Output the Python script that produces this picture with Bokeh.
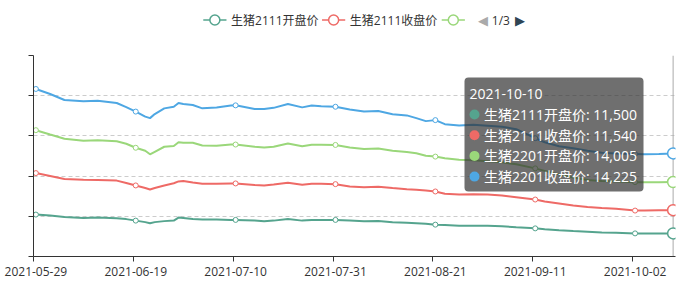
import pandas as pd
from bokeh.plotting import figure
from bokeh.layouts import column
from bokeh.models import FixedTicker, Span, Label, BoxAnnotation
from bokeh.core.properties import value
from bokeh.embed import file_html
from bokeh.resources import INLINE

# ---------------- data ----------------
dates = ["2021-05-29", "2021-06-01", "2021-06-04", "2021-06-08", "2021-06-11", "2021-06-15",
         "2021-06-17", "2021-06-19", "2021-06-21", "2021-06-22", "2021-06-23", "2021-06-25",
         "2021-06-27", "2021-06-28", "2021-06-29", "2021-07-01", "2021-07-03", "2021-07-06",
         "2021-07-09", "2021-07-10", "2021-07-14", "2021-07-16", "2021-07-18", "2021-07-21",
         "2021-07-24", "2021-07-26", "2021-07-28", "2021-07-31", "2021-08-03", "2021-08-06",
         "2021-08-09", "2021-08-12", "2021-08-15", "2021-08-17", "2021-08-19", "2021-08-21",
         "2021-08-23", "2021-08-26", "2021-08-29", "2021-09-01", "2021-09-04", "2021-09-07",
         "2021-09-11", "2021-09-13", "2021-09-16", "2021-09-19", "2021-09-22", "2021-09-25",
         "2021-09-28", "2021-10-02", "2021-10-04", "2021-10-07", "2021-10-10"]

lh2111_open = [20850, 20350, 19600, 19200, 19350, 19000, 18600, 17850, 17100, 16500, 17100, 17600,
               17850, 19350, 19100, 18600, 18350, 18350, 18200, 18200, 17950, 17500, 17850, 18700,
               17850, 18100, 18200, 18200, 17850, 17500, 17700, 17100, 16850, 16600, 16350, 15850,
               15700, 15350, 15350, 15350, 15100, 14500, 14000, 13600, 13100, 12700, 12350, 12000,
               11850, 11500, 11500, 11500, 11500]
lh2111_close = [20650, 19750, 19000, 19000, 18750, 18750, 18000, 17500, 17000, 16850, 17000, 17750,
                18600, 18000, 18500, 18250, 17850, 17850, 18150, 18150, 17650, 17850, 18000, 18000,
                17850, 18100, 18000, 17800, 17000, 17000, 17050, 17000, 16650, 16600, 16500, 16500,
                15500, 15500, 15600, 15500, 15250, 15000, 14350, 13750, 13250, 12650, 12250, 12100,
                11850, 11350, 11350, 11500, 11540]
lh2201_open = [21350, 20600, 20000, 19400, 19750, 19600, 19500, 18750, 18500, 17500, 18000, 19250,
               18550, 19500, 19000, 19750, 19000, 18900, 19350, 19350, 19000, 18850, 18750, 19500,
               19150, 19400, 19400, 19500, 19350, 18950, 18950, 18500, 18500, 18150, 17250, 17350,
               17650, 17250, 16900, 16500, 16500, 16350, 15500, 15250, 14500, 14000, 13500, 13500,
               13650, 14150, 14150, 14000, 14005]
lh2201_close = [20500, 20150, 19250, 19600, 19600, 19000, 18250, 18000, 17000, 18000, 18750, 19100,
                19500, 19500, 19250, 18750, 18500, 19000, 19400, 19500, 18750, 19150, 19350, 19650,
                19350, 19500, 19100, 19000, 18900, 18650, 18650, 18150, 18200, 17500, 17250, 18150,
                17000, 17100, 17750, 17750, 17750, 17500, 15000, 14250, 14000, 14500, 14500, 14000,
                13850, 14000, 13850, 14000, 14225]

series_names = ["生猪2111开盘价", "生猪2111收盘价", "生猪2201开盘价", "生猪2201收盘价"]
series_values = [lh2111_open, lh2111_close, lh2201_open, lh2201_close]
series_colors = ["#55a48e", "#ee6a66", "#9ad77a", "#4ea7e3"]

tick_labels = ["2021-05-29", "2021-06-19", "2021-07-10", "2021-07-31",
               "2021-08-21", "2021-09-11", "2021-10-02"]
y_ticks = [0, 20000, 40000, 60000, 80000, 100000]
legend_page = "1/3"
legend_visible = 3          # legend page 1 shows 3 icons, 2 names

FONT = "Open Sans, Noto Sans CJK SC"

# ---------------- derived ----------------
start = pd.Timestamp(dates[0])
xs = [(pd.Timestamp(d) - start).days for d in dates]
n_days = xs[-1]
tick_x = [(pd.Timestamp(d) - start).days for d in tick_labels]

# stacked series (ECharts "stack")
cums = []
run = [0] * len(dates)
for vals in series_values:
    run = [a + b for a, b in zip(run, vals)]
    cums.append(run)

W = 692
HEAD_H = 54
FL, FW, FH = 33, 642, 201
MAIN_TOP = 1
MAIN_H = 281 - HEAD_H

# ---------------- header (legend with paging) ----------------
head = figure(width=W, height=HEAD_H, output_backend="svg", toolbar_location=None,
              x_range=(0, W), y_range=(HEAD_H, 0), x_axis_type=None, y_axis_type=None,
              min_border=0)
head.outline_line_color = None
head.grid.visible = False
head.background_fill_color = "white"
head.border_fill_color = "white"

icon_x0 = [183, 311, 440]
LY = 19.5
for i in range(legend_visible):
    col = series_colors[i]
    head.segment(x0=[icon_x0[i]], y0=[LY], x1=[icon_x0[i] + 25], y1=[LY],
                 line_color=col, line_width=1.5)
    head.scatter([icon_x0[i] + 12.5], [LY], size=10, fill_color="white",
                 line_color=col, line_width=1.5)
head.text(x=[x0 + 30 for x0 in icon_x0[:2]], y=[LY, LY], text=series_names[:2],
          text_font=value(FONT), text_font_size=value("12px"), text_color="#333333",
          text_baseline="middle", text_align="left")
page_parts = ["◀", legend_page, "▶"]
head.text(x=[479], y=[LY], text=[page_parts[0]], text_font=value("DejaVu Sans"),
          text_font_size=value("13px"), text_color="#aaaaaa", text_baseline="middle")
head.text(x=[494], y=[LY], text=[page_parts[1]], text_font=value(FONT),
          text_font_size=value("12px"), text_color="#333333", text_baseline="middle")
head.text(x=[519], y=[LY], text=[page_parts[2]], text_font=value("DejaVu Sans"),
          text_font_size=value("13px"), text_color="#2f4554", text_baseline="middle")

# ---------------- main chart ----------------
p = figure(width=W, height=MAIN_H, output_backend="svg", toolbar_location=None,
           x_range=(-0.5, n_days + 0.5), y_range=(y_ticks[0], y_ticks[-1]),
           min_border_left=FL, min_border_right=W - FL - FW,
           min_border_top=MAIN_TOP, min_border_bottom=MAIN_H - MAIN_TOP - FH)
p.outline_line_color = None
p.background_fill_color = "white"
p.border_fill_color = "white"

p.xgrid.visible = False
p.ygrid.ticker = FixedTicker(ticks=y_ticks[1:])
p.ygrid.grid_line_color = "#cccccc"
p.ygrid.grid_line_dash = "4 3"
p.ygrid.grid_line_width = 1

p.xaxis.ticker = FixedTicker(ticks=tick_x, minor_ticks=[t - 0.5 for t in tick_x])
p.xaxis.major_label_overrides = {t: l for t, l in zip(tick_x, tick_labels)}
p.xaxis.major_tick_out = 0
p.xaxis.major_tick_in = 0
p.xaxis.minor_tick_out = 5
p.xaxis.minor_tick_in = 0
p.xaxis.minor_tick_line_color = "#333333"
p.xaxis.axis_line_color = "#333333"
p.xaxis.major_label_text_font = FONT
p.xaxis.major_label_text_font_size = "12px"
p.xaxis.major_label_text_color = "#333333"
p.xaxis.major_label_standoff = 5

# y axis: ticks only (labels hidden in the reference) -> use minor ticks
p.yaxis.ticker = FixedTicker(ticks=[], minor_ticks=y_ticks)
p.yaxis.minor_tick_out = 5
p.yaxis.minor_tick_in = 0
p.yaxis.minor_tick_line_color = "#333333"
p.yaxis.major_tick_line_color = None
p.yaxis.axis_line_color = "#333333"

# axis pointer at hovered date
p.add_layout(Span(location=xs[-1], dimension="height", line_color="#aaaaaa",
                  line_width=1, level="underlay"))

for name, cum, col in zip(series_names, cums, series_colors):
    p.line(xs, cum, line_color=col, line_width=2)
    sym_x = [x for x, d in zip(xs, dates) if d in tick_labels]
    sym_y = [c for c, d in zip(cum, dates) if d in tick_labels]
    p.scatter(sym_x, sym_y, size=5, fill_color="white", line_color=col, line_width=1)
    p.scatter([xs[-1]], [cum[-1]], size=11, fill_color="white", line_color=col, line_width=1.5)

def sy(cy):
    # canvas y (from top of whole page) -> frame-relative screen y (from frame bottom)
    return HEAD_H + MAIN_TOP + FH - cy

def sx(cx):
    return cx - FL

# tooltip for the last date
p.add_layout(BoxAnnotation(left=sx(464), right=sx(643), top=sy(77), bottom=sy(191),
                           left_units="screen", right_units="screen",
                           top_units="screen", bottom_units="screen",
                           fill_color="#323232", fill_alpha=0.7, line_color=None,
                           border_radius=4))
p.add_layout(Label(x=sx(469), y=sy(93), x_units="screen", y_units="screen", text=dates[-1],
                   text_font=FONT, text_font_size="14px", text_color="white",
                   text_baseline="middle"))
row_y = [114, 134.7, 155.4, 176.1]
for cy, name, vals, col in zip(row_y, series_names, series_values, series_colors):
    p.add_layout(BoxAnnotation(left=sx(469), right=sx(479), top=sy(cy - 5), bottom=sy(cy + 5),
                               left_units="screen", right_units="screen",
                               top_units="screen", bottom_units="screen",
                               fill_color=col, fill_alpha=1, line_color=None, border_radius=5))
    p.add_layout(Label(x=sx(483.5), y=sy(cy), x_units="screen", y_units="screen",
                       text=f"{name}: {vals[-1]:,}",
                       text_font=FONT, text_font_size="14px", text_color="white",
                       text_baseline="middle"))

layout = column(head, p, spacing=0)
open("out.html", "w").write(file_html(layout, INLINE))
